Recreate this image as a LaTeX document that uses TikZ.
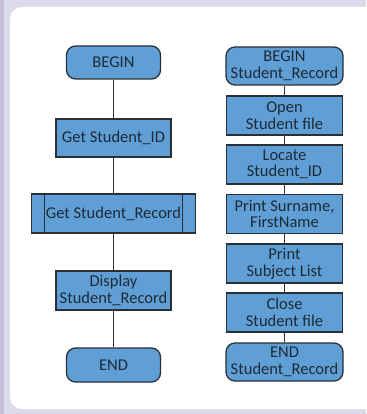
\documentclass[tikz,border=0pt]{standalone}
\usepackage{fontspec}
\setmainfont{Carlito}
\definecolor{boxblue}{HTML}{5F9FD6}
\definecolor{boxline}{HTML}{2A2F36}
\definecolor{boxtext}{HTML}{1E2A36}
\definecolor{frameout}{HTML}{C6BCDB}
\definecolor{frameband}{HTML}{DADAEA}
\tikzset{
  flow/.style={draw=boxline, line width=1.3pt, fill=boxblue, text=boxtext,
    align=center, inner sep=0pt, font=\fontsize{16.5}{16.5}\selectfont},
  terminal/.style={flow, rounded corners=9pt},
  process/.style={flow},
  link/.style={draw=boxline, line width=1.2pt}
}
\begin{document}
\begin{tikzpicture}[x=1pt, y=-1pt]
  % frame and panel
  \useasboundingbox (0,0) rectangle (366,414);
  \fill[frameband] (0,0) rectangle (366,414);
  \fill[frameout] (0,0) rectangle (4,414);
  \begin{scope}
    \clip (0,0) rectangle (366,414);
    \fill[white, rounded corners=12pt] (10,7) rectangle (380,409);
  \end{scope}
  % main program
  \node[terminal, minimum width=94pt, minimum height=33pt] (begin) at (113.5,62.5) {BEGIN};
  \node[process, minimum width=115pt, minimum height=38pt] (getid) at (113.5,138) {Get Student\_ID};
  \node[process, minimum width=164pt, minimum height=39pt] (getrec) at (113.5,213.5) {Get Student\_Record};
  \draw[link] ([xshift=14pt]getrec.north west) -- ([xshift=14pt]getrec.south west);
  \draw[link] ([xshift=-14pt]getrec.north east) -- ([xshift=-14pt]getrec.south east);
  \node[process, minimum width=115pt, minimum height=39pt] (display) at (113.5,290.5) {Display\\Student\_Record};
  \node[terminal, minimum width=94pt, minimum height=34pt] (end) at (113.5,365) {END};
  \draw[link] (begin) -- (getid);
  \draw[link] (getid) -- (getrec);
  \draw[link] (getrec) -- (display);
  \draw[link] (display) -- (end);
  % the Student_Record module
  \node[terminal, minimum width=117pt, minimum height=38pt] (rbegin) at (284.5,66) {BEGIN\\Student\_Record};
  \node[process, minimum width=116pt, minimum height=39pt] (open) at (284.5,115.5) {Open\\Student file};
  \node[process, minimum width=116pt, minimum height=39pt] (locate) at (284.5,164.5) {Locate\\Student\_ID};
  \node[process, minimum width=116pt, minimum height=39pt] (names) at (284.5,214) {Print Surname,\\FirstName};
  \node[process, minimum width=116pt, minimum height=39pt] (subjects) at (284.5,263.5) {Print\\Subject List};
  \node[process, minimum width=116pt, minimum height=39pt] (close) at (284.5,312.5) {Close\\Student file};
  \node[terminal, minimum width=117pt, minimum height=38pt] (rend) at (284.5,362) {END\\Student\_Record};
  \draw[link] (rbegin) -- (open);
  \draw[link] (open) -- (locate);
  \draw[link] (locate) -- (names);
  \draw[link] (names) -- (subjects);
  \draw[link] (subjects) -- (close);
  \draw[link] (close) -- (rend);
\end{tikzpicture}
\end{document}
